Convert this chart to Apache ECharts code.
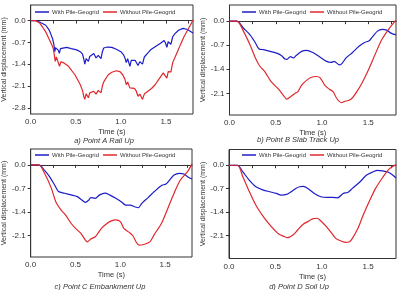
<!DOCTYPE html>
<html><head><meta charset="utf-8">
<script src="https://cdn.jsdelivr.net/npm/echarts@6/dist/echarts.min.js"></script>
<style>html,body{margin:0;padding:0;background:#fff}#c{width:398px;height:290px}</style>
</head><body><div id="c"></div>
<script>
const seriesNames = ['With Pile-Geogrid', 'Without Pile-Geogrid'];
const xLabelValues = [0, 0.5, 1.0, 1.5];
const xTickValues = [0, 0.25, 0.5, 0.75, 1.0, 1.25, 1.5, 1.75];
const yLabelValuesA = [0, -0.7, -1.4, -2.1, -2.8];
const yLabelValuesBCD = [0, -0.7, -1.4, -2.1];
const captions = ['a) Point A Rail Up', 'b) Point B Slab Track Up', 'c) Point C Embankment Up', 'd) Point D Soil Up'];

// Panel a
const aWithT = [0,0.05,0.08,0.12,0.167,0.20,0.22,0.245,0.258,0.268,0.275,0.29,0.305,0.318,0.33,0.35,0.40,0.45,0.51,0.55,0.575,0.59,0.60,0.615,0.625,0.64,0.655,0.67,0.70,0.725,0.735,0.75,0.765,0.78,0.795,0.81,0.85,0.90,0.95,1.0,1.03,1.045,1.06,1.075,1.085,1.10,1.115,1.135,1.16,1.175,1.19,1.21,1.225,1.24,1.26,1.30,1.33,1.38,1.44,1.48,1.495,1.51,1.525,1.54,1.555,1.575,1.60,1.64,1.69,1.73,1.76,1.80];
const aWithV = [0,0,-0.02,-0.08,-0.15,-0.28,-0.41,-0.6,-0.78,-1.0,-0.87,-0.84,-0.95,-1.05,-0.9,-0.84,-0.86,-0.9,-0.94,-1.0,-1.08,-1.25,-1.40,-1.22,-1.2,-1.31,-1.15,-1.1,-1.06,-1.2,-1.24,-1.12,-1.13,-1.22,-1.0,-0.88,-0.85,-0.86,-0.92,-1.0,-1.1,-1.2,-1.35,-1.22,-1.25,-1.47,-1.28,-1.25,-1.28,-1.34,-1.44,-1.32,-1.3,-1.4,-1.17,-1.04,-0.94,-0.84,-0.73,-0.64,-0.72,-0.86,-0.68,-0.66,-0.76,-0.52,-0.42,-0.31,-0.25,-0.28,-0.33,-0.40];
const aWithoutT = [0,0.05,0.07,0.10,0.13,0.17,0.20,0.23,0.25,0.262,0.272,0.285,0.30,0.32,0.335,0.36,0.42,0.49,0.53,0.55,0.575,0.59,0.60,0.615,0.625,0.64,0.655,0.67,0.70,0.725,0.735,0.75,0.765,0.78,0.795,0.81,0.86,0.90,0.95,0.99,1.02,1.045,1.06,1.075,1.085,1.10,1.12,1.15,1.17,1.19,1.21,1.225,1.24,1.26,1.30,1.34,1.38,1.43,1.47,1.49,1.51,1.525,1.54,1.555,1.575,1.62,1.66,1.70,1.73,1.77,1.80];
const aWithoutV = [0,0,-0.02,-0.08,-0.2,-0.38,-0.57,-0.75,-0.89,-1.1,-1.31,-1.17,-1.22,-1.47,-1.32,-1.35,-1.47,-1.74,-1.95,-2.06,-2.25,-2.45,-2.53,-2.35,-2.38,-2.48,-2.32,-2.27,-2.27,-2.36,-2.38,-2.24,-2.26,-2.32,-2.1,-1.97,-1.74,-1.66,-1.61,-1.64,-1.74,-1.88,-2.06,-1.97,-2.0,-2.16,-2.1,-2.18,-2.26,-2.43,-2.36,-2.4,-2.53,-2.36,-2.27,-2.18,-2.06,-1.85,-1.68,-1.63,-1.85,-1.64,-1.6,-1.65,-1.35,-1.05,-0.78,-0.52,-0.36,-0.15,0.02];

// Panel b
const bWithT = [0,0.08,0.15,0.22,0.28,0.32,0.37,0.44,0.51,0.56,0.60,0.62,0.66,0.69,0.72,0.78,0.83,0.90,0.97,1.05,1.10,1.13,1.19,1.22,1.26,1.33,1.40,1.46,1.51,1.55,1.60,1.65,1.70,1.74,1.80];
const bWithV = [0,0,-0.2,-0.39,-0.63,-0.81,-0.83,-0.88,-0.93,-1.0,-1.1,-1.11,-1.03,-1.07,-1.0,-0.88,-0.85,-0.91,-1.03,-1.17,-1.2,-1.17,-1.27,-1.22,-1.07,-0.91,-0.73,-0.62,-0.57,-0.44,-0.29,-0.24,-0.26,-0.34,-0.40];
const bWithoutT = [0,0.08,0.15,0.22,0.28,0.33,0.38,0.45,0.53,0.58,0.62,0.66,0.71,0.74,0.78,0.83,0.88,0.94,0.98,1.03,1.08,1.12,1.16,1.21,1.24,1.31,1.37,1.44,1.51,1.58,1.65,1.73,1.80];
const bWithoutV = [0,0,-0.29,-0.68,-1.07,-1.32,-1.46,-1.76,-1.98,-2.15,-2.27,-2.2,-2.1,-2.05,-1.86,-1.73,-1.64,-1.61,-1.65,-1.86,-1.98,-2.05,-2.25,-2.37,-2.34,-2.28,-2.08,-1.76,-1.37,-0.93,-0.52,-0.2,0.03];

// Panel c
const cWithT = [0,0.09,0.16,0.21,0.27,0.31,0.38,0.45,0.52,0.57,0.61,0.65,0.67,0.72,0.77,0.83,0.88,0.95,1.01,1.06,1.11,1.16,1.20,1.24,1.31,1.38,1.46,1.51,1.55,1.60,1.66,1.71,1.75,1.80];
const cWithV = [0,0,-0.18,-0.35,-0.61,-0.79,-0.84,-0.89,-0.94,-1.04,-1.11,-1.04,-0.97,-0.99,-0.89,-0.84,-0.89,-0.99,-1.09,-1.19,-1.19,-1.24,-1.27,-1.14,-0.97,-0.79,-0.61,-0.57,-0.45,-0.3,-0.25,-0.27,-0.35,-0.42];
const cWithoutT = [0,0.09,0.16,0.23,0.28,0.34,0.39,0.45,0.50,0.56,0.61,0.63,0.67,0.72,0.75,0.79,0.84,0.90,0.95,1.0,1.04,1.10,1.14,1.18,1.21,1.26,1.33,1.38,1.46,1.53,1.60,1.67,1.75,1.80];
const cWithoutV = [0,0,-0.28,-0.69,-1.09,-1.34,-1.49,-1.73,-1.88,-2.03,-2.23,-2.28,-2.2,-2.13,-2.03,-1.88,-1.76,-1.66,-1.63,-1.68,-1.88,-2.0,-2.1,-2.3,-2.38,-2.36,-2.28,-2.06,-1.73,-1.29,-0.84,-0.45,-0.2,0.03];

// Panel d
const dWithT = [0,0.09,0.15,0.22,0.29,0.37,0.44,0.51,0.56,0.62,0.67,0.72,0.76,0.80,0.85,0.92,0.99,1.06,1.12,1.17,1.23,1.28,1.33,1.41,1.48,1.55,1.60,1.66,1.71,1.76,1.80];
const dWithV = [0,0,-0.2,-0.45,-0.64,-0.74,-0.79,-0.84,-0.89,-0.87,-0.79,-0.69,-0.64,-0.63,-0.69,-0.84,-0.94,-0.96,-0.96,-0.97,-0.84,-0.81,-0.69,-0.5,-0.3,-0.2,-0.15,-0.17,-0.2,-0.28,-0.38];
const dWithoutT = [0,0.09,0.15,0.22,0.29,0.37,0.44,0.49,0.54,0.60,0.63,0.69,0.74,0.80,0.85,0.90,0.95,0.99,1.05,1.10,1.15,1.21,1.26,1.30,1.33,1.39,1.44,1.51,1.58,1.66,1.73,1.80];
const dWithoutV = [0,0,-0.35,-0.79,-1.19,-1.53,-1.78,-1.93,-2.06,-2.13,-2.16,-2.08,-1.93,-1.76,-1.68,-1.6,-1.58,-1.66,-1.83,-2.0,-2.18,-2.26,-2.3,-2.28,-2.18,-1.88,-1.53,-1.09,-0.69,-0.35,-0.1,0.02];

const pairs = (t, v) => t.map((x, i) => [x, v[i]]);
const panels = [
  {w: pairs(aWithT, aWithV), wo: pairs(aWithoutT, aWithoutV), smooth: false, ymin: -3.0, ymax: 0.5, yl: yLabelValuesA,
   grid: {left: 28, top: 5, width: 165, height: 109}, legend: {left: 35, top: 9}, cap: {x: 104, y: 137}},
  {w: pairs(bWithT, bWithV), wo: pairs(bWithoutT, bWithoutV), smooth: 0.3, ymin: -2.73, ymax: 0.47, yl: yLabelValuesBCD,
   grid: {left: 229.5, top: 5, width: 166.5, height: 110}, legend: {left: 242, top: 9}, cap: {x: 298, y: 136}},
  {w: pairs(cWithT, cWithV), wo: pairs(cWithoutT, cWithoutV), smooth: 0.3, ymin: -2.73, ymax: 0.47, yl: yLabelValuesBCD,
   grid: {left: 25.5, top: 149, width: 166.5, height: 108}, legend: {left: 35, top: 152}, cap: {x: 100, y: 283}},
  {w: pairs(dWithT, dWithV), wo: pairs(dWithoutT, dWithoutV), smooth: 0.3, ymin: -2.78, ymax: 0.47, yl: yLabelValuesBCD,
   grid: {left: 229, top: 149.5, width: 167, height: 109}, legend: {left: 242, top: 152}, cap: {x: 299, y: 283}}
];
const BLUE = '#1c1cc8', RED = '#e0282c';
const font = 'Liberation Sans, Arial, sans-serif';
const option = {
  animation: false,
  grid: [], xAxis: [], yAxis: [], series: [], legend: [], title: []
};
panels.forEach((p, i) => {
  option.grid.push(Object.assign({show: true, borderColor: '#333', borderWidth: 1, backgroundColor: 'transparent'}, p.grid));
  option.xAxis.push({
    type: 'value', gridIndex: i, min: 0, max: 1.8,
    name: 'Time (s)', nameLocation: 'middle', nameGap: 14,
    nameTextStyle: {fontSize: 7.5, color: '#333', fontFamily: font},
    axisLine: {lineStyle: {color: '#333', width: 1}},
    axisTick: {show: true, length: 3, customValues: xTickValues, lineStyle: {color: '#333'}},
    axisLabel: {customValues: xLabelValues, fontSize: 8, color: '#333', margin: 4, fontFamily: font,
      formatter: v => v.toFixed(1)},
    splitLine: {show: false}
  });
  option.yAxis.push({
    type: 'value', gridIndex: i, min: p.ymin, max: p.ymax,
    name: 'Vertical displacement (mm)', nameLocation: 'middle', nameGap: 20, nameRotate: 90,
    nameTextStyle: {fontSize: 7, color: '#333', fontFamily: font},
    axisLine: {show: true, lineStyle: {color: '#333', width: 1}},
    axisTick: {show: true, length: 3, customValues: p.yl, lineStyle: {color: '#333'}},
    axisLabel: {customValues: p.yl, fontSize: 8, color: '#333', margin: 5, fontFamily: font,
      formatter: v => v.toFixed(1)},
    splitLine: {show: false}
  });
  option.series.push({
    name: seriesNames[0], type: 'line', xAxisIndex: i, yAxisIndex: i, data: p.w,
    showSymbol: false, smooth: p.smooth, lineStyle: {color: BLUE, width: 1.2}, itemStyle: {color: BLUE}
  });
  option.series.push({
    name: seriesNames[1], type: 'line', xAxisIndex: i, yAxisIndex: i, data: p.wo,
    showSymbol: false, smooth: p.smooth, lineStyle: {color: RED, width: 1.2}, itemStyle: {color: RED}
  });
  option.legend.push({
    data: seriesNames.map(n => ({name: n, icon: 'rect'})), left: p.legend.left, top: p.legend.top,
    itemWidth: 14, itemHeight: 1.5, itemGap: 4, padding: 0,
    textStyle: {fontSize: 6, color: '#333', fontFamily: font, padding: [0, 0, 0, -2]}
  });
  option.title.push({
    text: captions[i], left: p.cap.x, top: p.cap.y, textAlign: 'center', padding: 0,
    textStyle: {fontSize: 7.5, fontStyle: 'italic', fontWeight: 'normal', color: '#333', fontFamily: font}
  });
});
const chart = echarts.init(document.getElementById('c'), null, {renderer: 'canvas'});
chart.setOption(option);
</script>
</body></html>
